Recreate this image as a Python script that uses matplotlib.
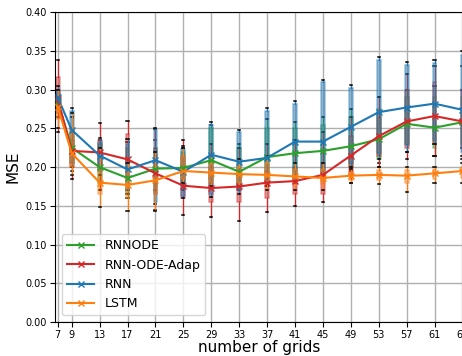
import matplotlib
matplotlib.use("Agg")
import matplotlib.pyplot as plt
import numpy as np

grids = [7, 9, 13, 17, 21, 25, 29, 33, 37, 41, 45, 49, 53, 57, 61, 65]
labels = ["RNNODE", "RNN-ODE-Adap", "RNN", "LSTM"]
colors = ["#2ca02c", "#d62728", "#1f77b4", "#ff7f0e"]

# line values
rnnode_mean = [0.285, 0.225, 0.200, 0.186, 0.198, 0.199, 0.209, 0.194, 0.213, 0.218, 0.221, 0.227, 0.236, 0.256, 0.251, 0.258]
adap_mean = [0.288, 0.221, 0.219, 0.210, 0.192, 0.176, 0.173, 0.175, 0.180, 0.182, 0.190, 0.215, 0.240, 0.259, 0.266, 0.259]
rnn_mean = [0.290, 0.248, 0.215, 0.197, 0.209, 0.194, 0.216, 0.207, 0.212, 0.233, 0.233, 0.252, 0.271, 0.277, 0.282, 0.274]
lstm_mean = [0.278, 0.218, 0.180, 0.177, 0.183, 0.195, 0.193, 0.191, 0.190, 0.188, 0.186, 0.189, 0.190, 0.189, 0.192, 0.195]

# box statistics: whisker low, q1, q3, whisker high
rnnode_lo = [0.265, 0.195, 0.170, 0.160, 0.170, 0.170, 0.180, 0.170, 0.185, 0.190, 0.190, 0.195, 0.205, 0.220, 0.215, 0.225]
rnnode_q1 = [0.275, 0.205, 0.180, 0.165, 0.175, 0.180, 0.185, 0.175, 0.190, 0.195, 0.195, 0.200, 0.210, 0.230, 0.225, 0.230]
rnnode_q3 = [0.295, 0.245, 0.230, 0.225, 0.225, 0.220, 0.250, 0.225, 0.250, 0.250, 0.255, 0.265, 0.275, 0.290, 0.290, 0.290]
rnnode_hi = [0.300, 0.265, 0.235, 0.232, 0.235, 0.225, 0.255, 0.230, 0.262, 0.258, 0.265, 0.275, 0.290, 0.300, 0.305, 0.300]

adap_lo = [0.245, 0.185, 0.170, 0.170, 0.145, 0.138, 0.136, 0.131, 0.142, 0.150, 0.155, 0.180, 0.200, 0.210, 0.215, 0.210]
adap_q1 = [0.270, 0.200, 0.200, 0.185, 0.165, 0.160, 0.155, 0.155, 0.160, 0.165, 0.165, 0.190, 0.215, 0.225, 0.230, 0.225]
adap_q3 = [0.317, 0.235, 0.235, 0.243, 0.225, 0.215, 0.200, 0.195, 0.195, 0.200, 0.205, 0.240, 0.265, 0.300, 0.310, 0.300]
adap_hi = [0.339, 0.265, 0.257, 0.260, 0.249, 0.235, 0.230, 0.225, 0.230, 0.235, 0.245, 0.265, 0.290, 0.320, 0.330, 0.330]

rnn_lo = [0.275, 0.200, 0.190, 0.165, 0.152, 0.160, 0.162, 0.165, 0.175, 0.180, 0.185, 0.200, 0.210, 0.220, 0.230, 0.215]
rnn_q1 = [0.280, 0.205, 0.195, 0.170, 0.155, 0.163, 0.165, 0.170, 0.180, 0.185, 0.190, 0.205, 0.218, 0.228, 0.235, 0.220]
rnn_q3 = [0.300, 0.272, 0.233, 0.230, 0.248, 0.224, 0.255, 0.245, 0.272, 0.282, 0.310, 0.302, 0.338, 0.332, 0.335, 0.345]
rnn_hi = [0.305, 0.276, 0.237, 0.236, 0.250, 0.227, 0.258, 0.248, 0.277, 0.286, 0.313, 0.306, 0.342, 0.336, 0.339, 0.350]

lstm_lo = [0.250, 0.190, 0.148, 0.143, 0.143, 0.180, 0.175, 0.175, 0.170, 0.170, 0.170, 0.180, 0.178, 0.168, 0.180, 0.180]
lstm_q1 = [0.262, 0.200, 0.165, 0.160, 0.165, 0.185, 0.180, 0.180, 0.178, 0.178, 0.178, 0.184, 0.183, 0.180, 0.185, 0.186]
lstm_q3 = [0.290, 0.250, 0.200, 0.195, 0.200, 0.215, 0.205, 0.200, 0.205, 0.198, 0.198, 0.194, 0.196, 0.196, 0.198, 0.200]
lstm_hi = [0.300, 0.270, 0.225, 0.205, 0.220, 0.225, 0.215, 0.210, 0.215, 0.205, 0.205, 0.197, 0.200, 0.200, 0.200, 0.205]

series = [
    (rnnode_mean, rnnode_lo, rnnode_q1, rnnode_q3, rnnode_hi),
    (adap_mean, adap_lo, adap_q1, adap_q3, adap_hi),
    (rnn_mean, rnn_lo, rnn_q1, rnn_q3, rnn_hi),
    (lstm_mean, lstm_lo, lstm_q1, lstm_q3, lstm_hi),
]

fig = plt.figure(figsize=(4.62, 3.56), dpi=100)
ax = fig.add_axes([0.119, 0.0955, 0.885, 0.870])

for (mean, lo, q1, q3, hi), col in zip(series, colors):
    stats = []
    for i in range(len(grids)):
        stats.append(dict(med=mean[i], q1=q1[i], q3=q3[i], whislo=lo[i], whishi=hi[i], fliers=[]))
    ax.bxp(stats, positions=grids, widths=0.55, patch_artist=True, showfliers=False,
           manage_ticks=False,
           boxprops=dict(facecolor=col, alpha=0.45, edgecolor=col, linewidth=1.1),
           whiskerprops=dict(color=col, linewidth=0.9),
           capprops=dict(color="black", linewidth=1.1),
           medianprops=dict(color=col, linewidth=0.8),
           capwidths=0.3)

for (mean, lo, q1, q3, hi), col, lab in zip(series, colors, labels):
    ax.plot(grids, mean, color=col, marker="x", markersize=5, linewidth=1.5, label=lab, zorder=5)

ax.set_xlim(6.6, 65.2)
ax.set_ylim(0.0, 0.40)
ax.set_xticks(grids)
ax.set_xticklabels([str(g) for g in grids])
ax.set_yticks(np.arange(0, 0.401, 0.05))
ax.set_yticklabels([f"{v:.2f}" for v in np.arange(0, 0.401, 0.05)])
ax.tick_params(labelsize=7, pad=2.5)
ax.grid(True, color="#b0b0b0", linewidth=1.0)
ax.set_axisbelow(True)
ax.set_xlabel("number of grids", fontsize=11, labelpad=0)
ax.set_ylabel("MSE", fontsize=11, labelpad=3)
ax.legend(loc="lower left", fontsize=9, bbox_to_anchor=(0.0, 0.0), borderaxespad=0.55,
          handlelength=2.2)

fig.savefig("out.png", dpi=100)
